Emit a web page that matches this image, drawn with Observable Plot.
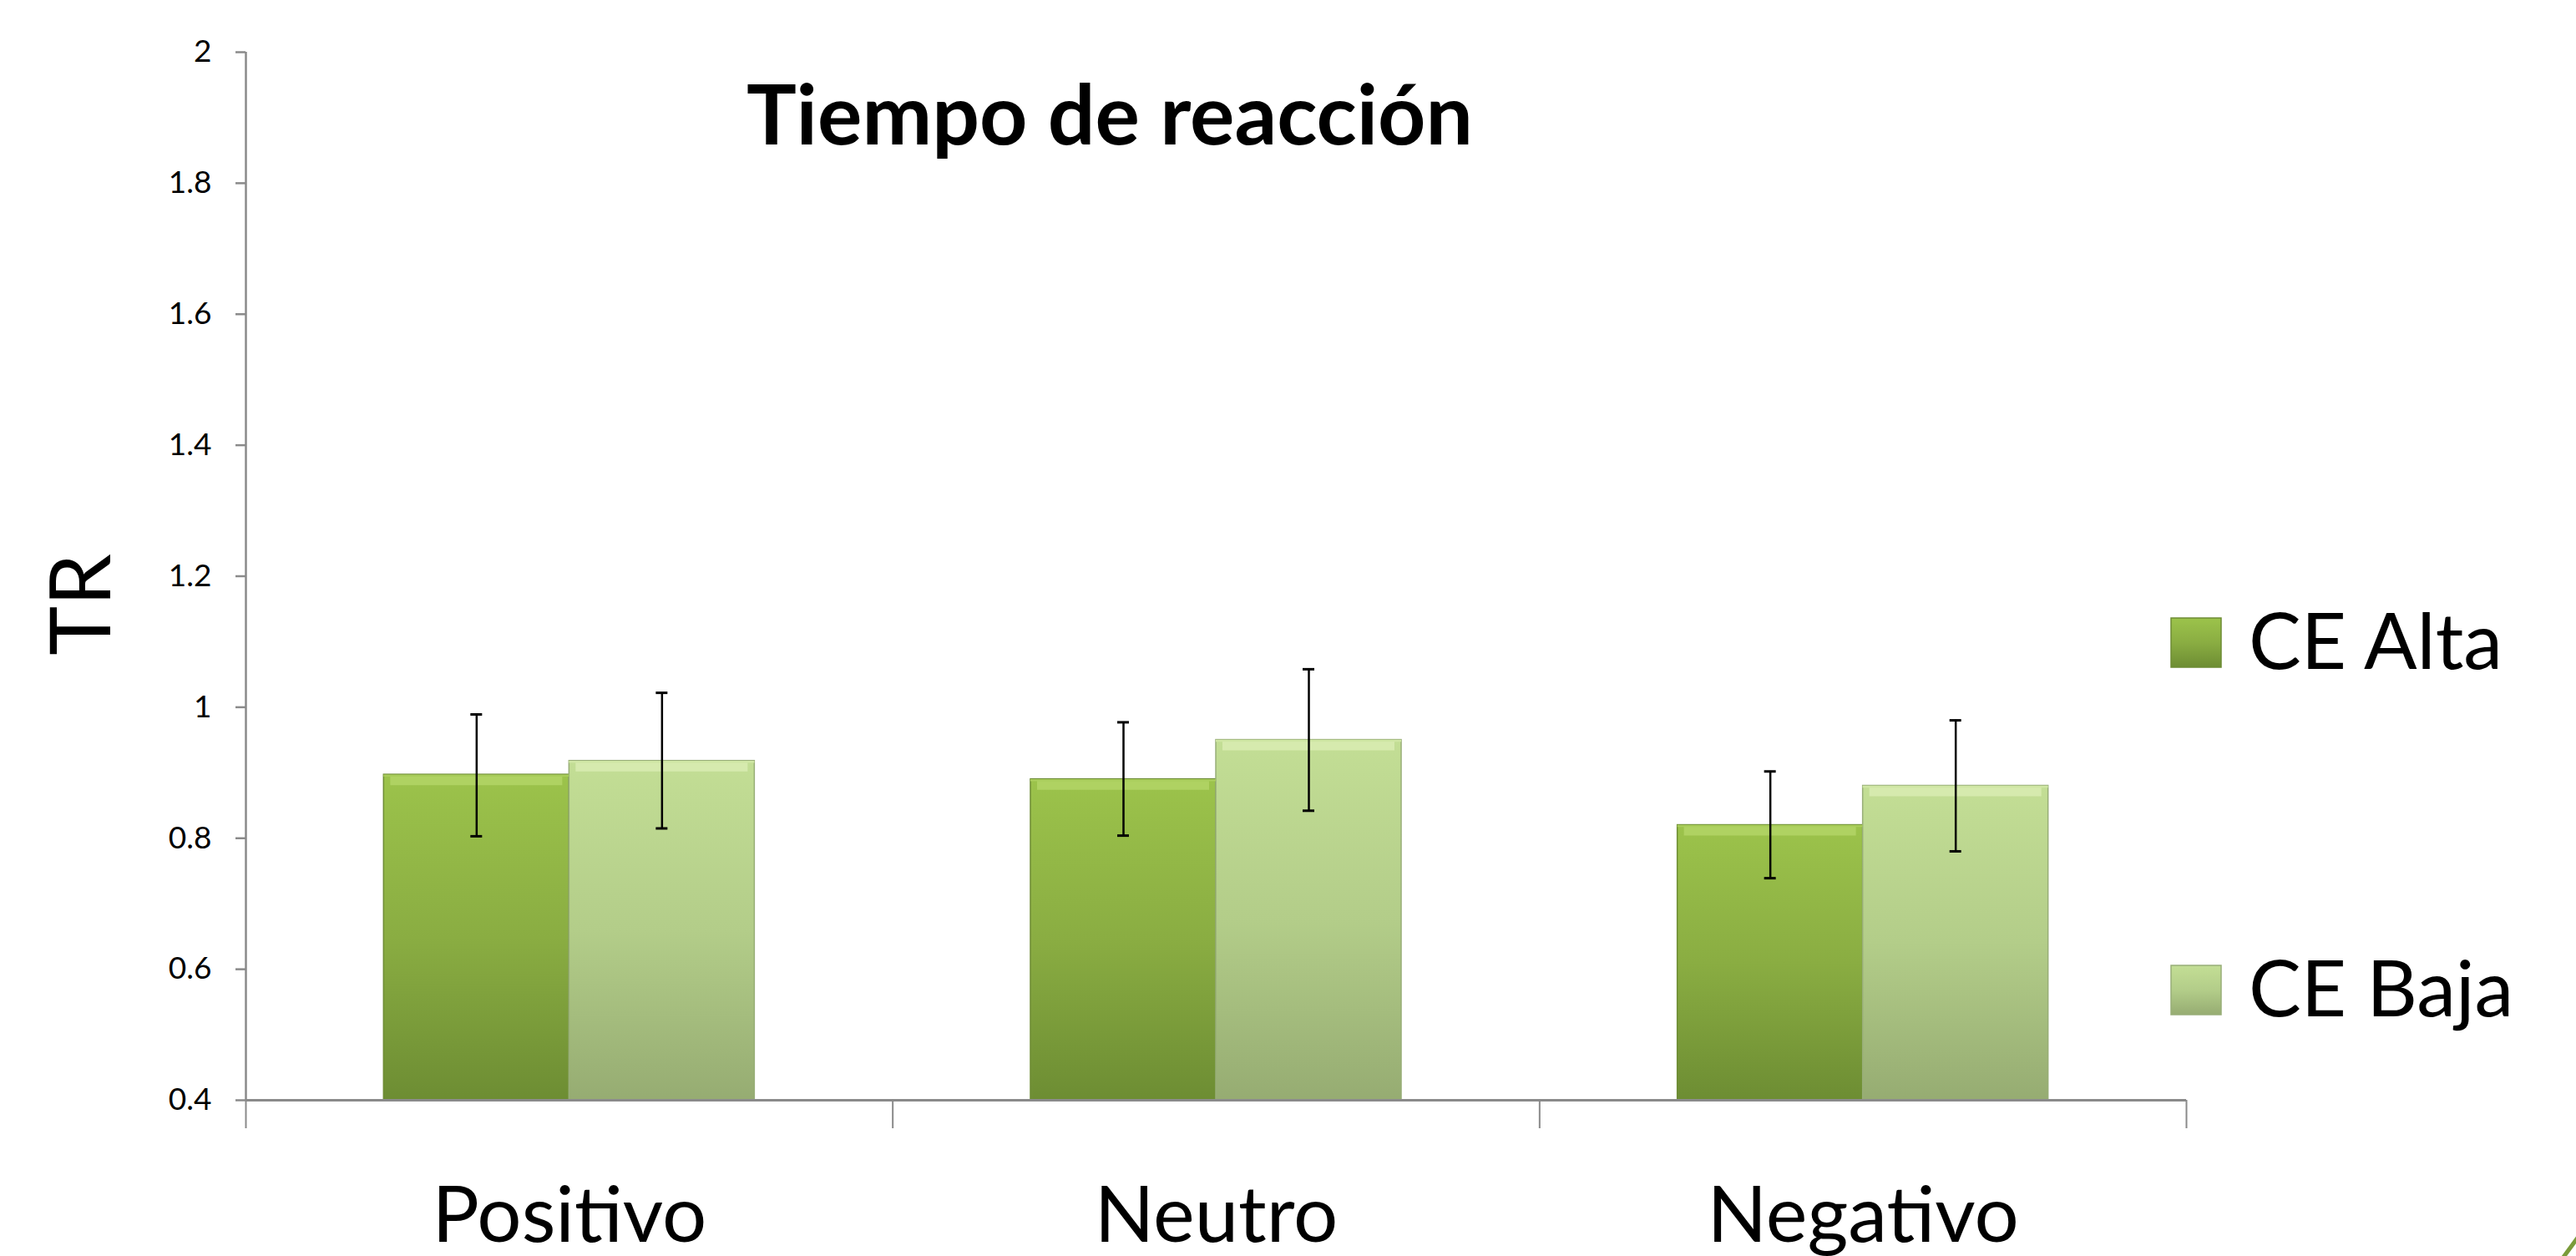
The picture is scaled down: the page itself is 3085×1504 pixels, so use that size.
<!DOCTYPE html>
<html>
<head>
<meta charset="utf-8">
<script src="https://cdn.jsdelivr.net/npm/d3@7"></script>
<script src="https://cdn.jsdelivr.net/npm/@observablehq/plot@0.6"></script>
<style>
  html, body { margin: 0; padding: 0; background: #fff; }
  #chart { position: relative; width: 3085px; height: 1504px; overflow: hidden; }
  #chart svg { display: block; font-variant-ligatures: none; }
</style>
</head>
<body>
<div id="chart"></div>
<script>
// ---- Data ----
const categories = ["Positivo", "Neutro", "Negativo"];
const series = ["CE Alta", "CE Baja"];
const altaValues = [0.897, 0.890, 0.820];
const bajaValues = [0.918, 0.950, 0.880];
const altaLow = [0.803, 0.804, 0.739];
const altaHigh = [0.989, 0.977, 0.902];
const bajaLow = [0.815, 0.842, 0.780];
const bajaHigh = [1.022, 1.058, 0.980];
const yTicks = [0.4, 0.6, 0.8, 1.0, 1.2, 1.4, 1.6, 1.8, 2.0];
const title = "Tiempo de reacción";
const yLabel = "TR";

// ---- Layout constants ----
const W = 3085, H = 1504;
const BAR = 0.2866; // bar width as fraction of a category slot
const Y_MIN = 0.4, Y_MAX = 2;
const FONT = "Lato, 'Open Sans', sans-serif";
const GRAY = "#8a8a8a";

const rows = [];
categories.forEach((c, i) => {
  rows.push({category: c, i, series: series[0], value: altaValues[i], lo: altaLow[i], hi: altaHigh[i], side: -1});
  rows.push({category: c, i, series: series[1], value: bajaValues[i], lo: bajaLow[i], hi: bajaHigh[i], side: 1});
});
const x1 = d => d.side < 0 ? d.i + 0.5 - BAR : d.i + 0.5;
const x2 = d => d.side < 0 ? d.i + 0.5 : d.i + 0.5 + BAR;
const xc = d => d.i + 0.5 + d.side * BAR / 2;

const plot = Plot.plot({
  width: W,
  height: H,
  marginLeft: 294,
  marginRight: 467,
  marginTop: 62,
  marginBottom: 187,
  style: {fontFamily: FONT, color: "#000", background: "transparent"},
  x: {type: "linear", domain: [0, categories.length], axis: null},
  y: {domain: [Y_MIN, Y_MAX], axis: null},
  color: {type: "ordinal", domain: series, range: ["url(#gradAlta)", "url(#gradBaja)"]},
  marks: [
    // bars
    Plot.rect(rows, {x1, x2, y1: () => Y_MIN, y2: "value", fill: "series",
      stroke: d => d.side < 0 ? "#6d8c34" : "#98ae78", strokeWidth: 1.5}),
    // top bevel highlight
    Plot.ruleY(rows, {y: "value", x1, x2, dy: 7, insetLeft: 8, insetRight: 8, strokeWidth: 11,
      stroke: d => d.side < 0 ? "#b3d566" : "#d9ecb3", strokeOpacity: 0.85}),
    Plot.ruleY(rows, {y: "value", x1, x2, dy: 1, strokeWidth: 2.5,
      stroke: d => d.side < 0 ? "#a8cc5a" : "#cfe6a4"}),
    // axes lines
    Plot.ruleX([0], {y1: Y_MIN, y2: Y_MAX, stroke: GRAY, strokeWidth: 2.5}),
    Plot.ruleY([Y_MIN], {stroke: GRAY, strokeWidth: 3}),
    // error bars
    Plot.ruleX(rows, {x: xc, y1: "lo", y2: "hi", stroke: "#000", strokeWidth: 2.5}),
    Plot.ruleY(rows, {y: "hi", x1: xc, x2: xc, insetLeft: -7, insetRight: -7, stroke: "#000", strokeWidth: 3}),
    Plot.ruleY(rows, {y: "lo", x1: xc, x2: xc, insetLeft: -7, insetRight: -7, stroke: "#000", strokeWidth: 3}),
    // y axis
    Plot.axisY(yTicks, {tickSize: 12, tickPadding: 29, fontSize: 37, stroke: GRAY, strokeWidth: 2.5,
      tickFormat: d => String(+d.toFixed(1)), label: null}),
    // category boundary ticks
    Plot.axisX(d3.range(categories.length + 1), {tickSize: 34, stroke: GRAY, strokeWidth: 2, tickFormat: () => "", label: null}),
    // category labels
    Plot.axisX(categories.map((c, i) => i + 0.5), {tickSize: 0, tickPadding: 103, fontSize: 94,
      tickFormat: v => categories[Math.floor(v)], label: null})
  ]
});

// gradients
const svg = d3.select(plot);
const defs = svg.insert("defs", ":first-child");
function grad(id, stops) {
  const g = defs.append("linearGradient").attr("id", id).attr("x1", 0).attr("y1", 0).attr("x2", 0).attr("y2", 1);
  stops.forEach(([o, c]) => g.append("stop").attr("offset", o).attr("stop-color", c));
}
grad("gradAlta", [[0, "#9cc34b"], [0.5, "#8aad42"], [1, "#6d8d33"]]);
grad("gradBaja", [[0, "#c3de95"], [0.5, "#b3cd89"], [1, "#96ac72"]]);

// title
svg.append("text").attr("x", 1329).attr("y", 173).attr("text-anchor", "middle")
  .attr("font-family", FONT).attr("font-weight", 700).attr("font-size", 100).attr("fill", "#000").text(title);
// y label
svg.append("text").attr("transform", "translate(132,724) rotate(-90)").attr("text-anchor", "middle")
  .attr("font-family", FONT).attr("font-size", 100).attr("fill", "#000").text(yLabel);
// legend
const legendY = [740, 1156];
series.forEach((s, k) => {
  svg.append("rect").attr("x", 2600).attr("y", legendY[k]).attr("width", 60).attr("height", 59)
    .attr("fill", k === 0 ? "url(#gradAlta)" : "url(#gradBaja)")
    .attr("stroke", k === 0 ? "#6d8c34" : "#98ae78").attr("stroke-width", 1.5);
  svg.append("text").attr("x", 2693).attr("y", legendY[k] + 61).attr("text-anchor", "start")
    .attr("font-family", FONT).attr("font-size", 94).attr("fill", "#000").text(s);
});
// slide decoration
svg.append("line").attr("x1", 3068).attr("y1", 1508).attr("x2", 3090).attr("y2", 1478)
  .attr("stroke", "#7a9b3a").attr("stroke-width", 5);

document.getElementById("chart").appendChild(plot);
</script>
</body>
</html>
